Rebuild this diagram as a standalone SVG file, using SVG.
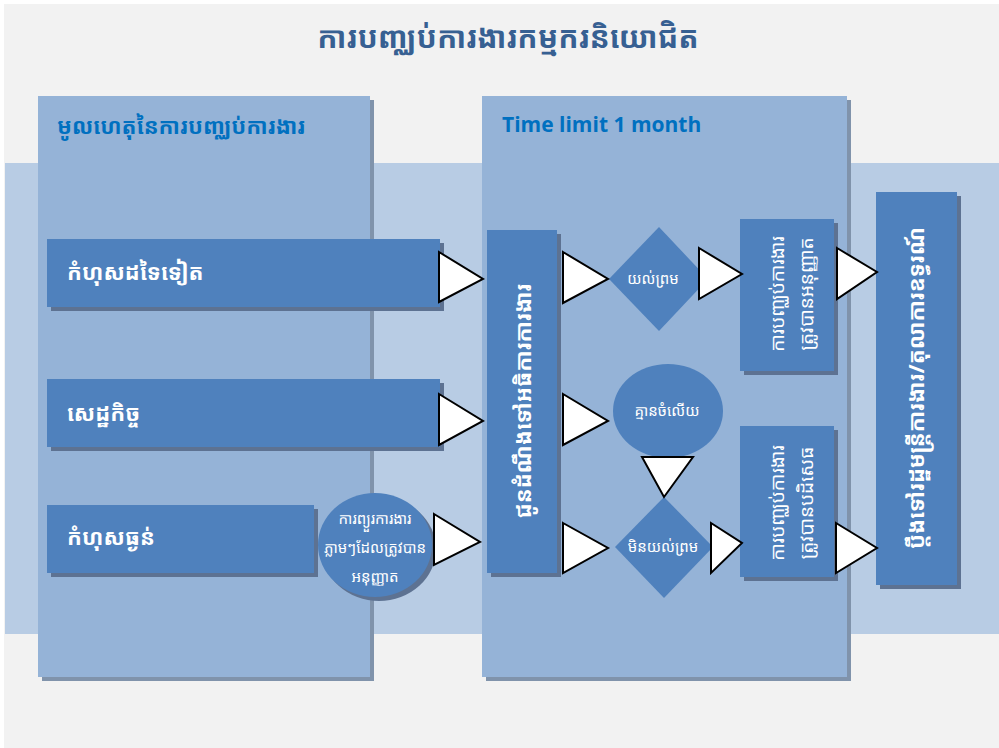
<svg xmlns="http://www.w3.org/2000/svg" width="999" height="748" viewBox="0 0 999 748">
  <style>
    .km { font-family: "Noto Sans Khmer", "Khmer OS", "Noto Sans", "DejaVu Sans", sans-serif; }
    .panel { fill: #95b3d7; }
    .pshadow { fill: #8093ab; }
    .box { fill: #4f81bd; }
    .bshadow { fill: #5d7292; }
    .arrow { fill: #ffffff; stroke: #000000; stroke-width: 2; stroke-linejoin: miter; }
    .head { fill: #0070c0; font-weight: bold; }
    .lbl { fill: #ffffff; font-weight: bold; font-size: 22px; }
    .small { fill: #ffffff; font-size: 15px; }
    .vert { fill: #ffffff; font-size: 19px; }
  </style>

  <!-- backdrop -->
  <rect x="0" y="0" width="999" height="748" fill="#ffffff"/>
  <rect x="4" y="4" width="995" height="744" fill="#f2f2f2"/>
  <rect x="5" y="163" width="994" height="471" fill="#b8cce4"/>

  <!-- title -->
  <text class="km" x="508" y="48" text-anchor="middle" font-size="30" font-weight="bold" fill="#376092">ការបញ្ឈប់ការងារកម្មករនិយោជិត</text>

  <!-- phase panels -->
  <g id="panel-causes">
    <rect class="pshadow" x="42" y="100" width="332" height="581"/>
    <rect class="panel" x="38" y="96" width="332" height="581"/>
    <text class="km head" x="57" y="134" font-size="22">មូលហេតុនៃការបញ្ឈប់ការងារ</text>
  </g>
  <g id="panel-timelimit">
    <rect class="pshadow" x="486" y="100" width="365" height="581"/>
    <rect class="panel" x="482" y="96" width="365" height="581"/>
    <text x="502" y="132" font-family="'Open Sans', 'Liberation Sans', sans-serif" font-weight="bold" font-size="21" fill="#0070c0">Time limit 1 month</text>
  </g>

  <!-- causes -->
  <g id="cause-other">
    <rect class="bshadow" x="51" y="243" width="393" height="68"/>
    <rect class="box" x="47" y="239" width="393" height="68"/>
    <text class="km lbl" x="67" y="280">កំហុសដទៃទៀត</text>
  </g>
  <g id="cause-economic">
    <rect class="bshadow" x="51" y="383" width="393" height="68"/>
    <rect class="box" x="47" y="379" width="393" height="68"/>
    <text class="km lbl" x="67" y="421">សេដ្ឋកិច្ច</text>
  </g>
  <g id="cause-serious">
    <rect class="bshadow" x="51" y="509" width="267" height="68"/>
    <rect class="box" x="47" y="505" width="267" height="68"/>
    <text class="km lbl" x="67" y="545">កំហុសធ្ងន់</text>
  </g>
  <g id="suspension">
    <ellipse cx="379" cy="549" rx="57" ry="52" fill="#5d7292"/>
    <ellipse cx="375" cy="545" rx="57" ry="52" class="box"/>
    <text class="km small" x="375" y="524" text-anchor="middle" font-size="14">ការព្យួរការងារ</text>
    <text class="km small" x="375" y="553" text-anchor="middle" font-size="14">ភ្លាមៗដែលត្រូវបាន</text>
    <text class="km small" x="375" y="582" text-anchor="middle" font-size="14">អនុញ្ញាត</text>
  </g>

  <!-- notification -->
  <g id="notify-inspector">
    <rect class="bshadow" x="491" y="234" width="70" height="343"/>
    <rect class="box" x="487" y="230" width="70" height="343"/>
    <text class="km lbl" transform="translate(522 401) rotate(-90)" text-anchor="middle" dominant-baseline="central">ជូនដំណឹងទៅអធិការការងារ</text>
  </g>

  <!-- outcomes -->
  <g id="agree">
    <polygon class="box" points="659,227 708,279 659,331 609,279"/>
    <text class="km small" x="653" y="284" text-anchor="middle">យល់ព្រម</text>
  </g>
  <g id="no-answer">
    <ellipse class="box" cx="668" cy="411" rx="55" ry="47"/>
    <text class="km small" x="667" y="416" text-anchor="middle">គ្មានចំលើយ</text>
  </g>
  <g id="disagree">
    <polygon class="box" points="664,497 713,547 664,598 615,547"/>
    <text class="km small" x="663" y="552" text-anchor="middle">មិនយល់ព្រម</text>
  </g>
  <g id="dismissal-allowed">
    <rect class="bshadow" x="744" y="223" width="94" height="152"/>
    <rect class="box" x="740" y="219" width="94" height="152"/>
    <text class="km vert" transform="translate(777 294) rotate(-90)" text-anchor="middle" dominant-baseline="central">ការបញ្ឈប់ការងារ</text>
    <text class="km vert" transform="translate(806 294) rotate(-90)" text-anchor="middle" dominant-baseline="central">ត្រូវបានអនុញ្ញាត</text>
  </g>
  <g id="dismissal-refused">
    <rect class="bshadow" x="744" y="430" width="94" height="151"/>
    <rect class="box" x="740" y="426" width="94" height="151"/>
    <text class="km vert" transform="translate(777 503) rotate(-90)" text-anchor="middle" dominant-baseline="central">ការបញ្ឈប់ការងារ</text>
    <text class="km vert" transform="translate(806 503) rotate(-90)" text-anchor="middle" dominant-baseline="central">ត្រូវបានបដិសេធ</text>
  </g>
  <g id="appeal">
    <rect class="bshadow" x="880" y="196" width="81" height="393"/>
    <rect class="box" x="876" y="192" width="81" height="393"/>
    <text class="km lbl" transform="translate(915 388) rotate(-90)" text-anchor="middle" dominant-baseline="central">ប្តឹងទៅរដ្ឋមន្ត្រីការងារ/តុលាការឧទ្ធរណ៍</text>
  </g>

  <!-- connectors -->
  <g id="connectors">
    <polygon class="arrow" points="439,252 483,279 439,302"/>
    <polygon class="arrow" points="439,394 483,421 439,445"/>
    <polygon class="arrow" points="434,514 480,542 434,565"/>
    <polygon class="arrow" points="563,252 608,279 563,303"/>
    <polygon class="arrow" points="563,394 608,421 563,445"/>
    <polygon class="arrow" points="563,523 608,548 563,573"/>
    <polygon class="arrow" points="699,248 742,274 699,299"/>
    <polygon class="arrow" points="642,457 693,457 664,497"/>
    <polygon class="arrow" points="711,523 742,543 711,573"/>
    <polygon class="arrow" points="837,248 877,272 837,299"/>
    <polygon class="arrow" points="836,523 877,548 836,573"/>
  </g>
</svg>
